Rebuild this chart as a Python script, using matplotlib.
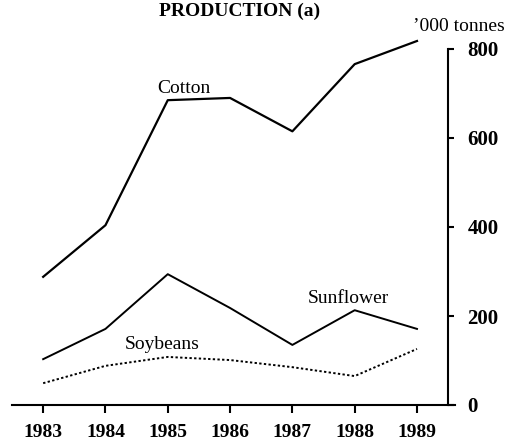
import matplotlib.pyplot as plt

# データ
years = [1983, 1984, 1985, 1986, 1987, 1988, 1989]
cotton = [288, 404, 685, 690, 615, 766, 818]
sunflower = [103, 171, 294, 218, 135, 213, 171]
soybeans = [49, 88, 108, 101, 85, 65, 126]
y_ticks = [0, 200, 400, 600, 800]

plt.rcParams['font.family'] = ['Liberation Serif', 'DejaVu Serif']

fig = plt.figure(figsize=(5.06, 4.43), dpi=100)
ax = fig.add_axes([12 / 506, 38 / 443, 443 / 506, 356 * 840 / 800 / 443])

ax.plot(years, cotton, color='black', lw=1.6, clip_on=False)
ax.plot(years, sunflower, color='black', lw=1.4, clip_on=False)
ax.plot(years, soybeans, color='black', lw=1.4, ls=(0, (1.2, 1.2)), clip_on=False)

# ラベル
ax.text(1985.26, 712, 'Cotton', fontsize=14, ha='center', va='center')
ax.text(1987.9, 240, 'Sunflower', fontsize=14, ha='center', va='center')
ax.text(1984.91, 135, 'Soybeans', fontsize=14, ha='center', va='center')

ax.set_xlim(1982.5, 1989.61)
ax.set_ylim(0, 840)

# 軸
ax.spines['top'].set_visible(False)
ax.spines['left'].set_visible(False)
ax.spines['right'].set_position(('data', 1989.5))
ax.spines['right'].set_bounds(0, 800)
ax.spines['right'].set_linewidth(1.5)
ax.spines['bottom'].set_linewidth(1.5)

ax.yaxis.tick_right()
ax.set_yticks(y_ticks)
ax.set_yticklabels([str(v) for v in y_ticks], fontsize=15, fontweight='bold')
ax.tick_params(axis='y', direction='out', length=4, width=1.5, pad=10)

ax.set_xticks(years)
ax.set_xticklabels([str(y) for y in years], fontsize=14, fontweight='bold')
ax.tick_params(axis='x', direction='out', length=6, width=1.5, pad=8)

fig.text(0.474, 1 - 16 / 443, 'PRODUCTION (a)', fontsize=14, fontweight='bold',
         ha='center', va='baseline')
fig.text(505 / 506, 1 - 31 / 443, "\u2019000 tonnes", fontsize=14,
         ha='right', va='baseline')

fig.savefig('out.png', dpi=100)
